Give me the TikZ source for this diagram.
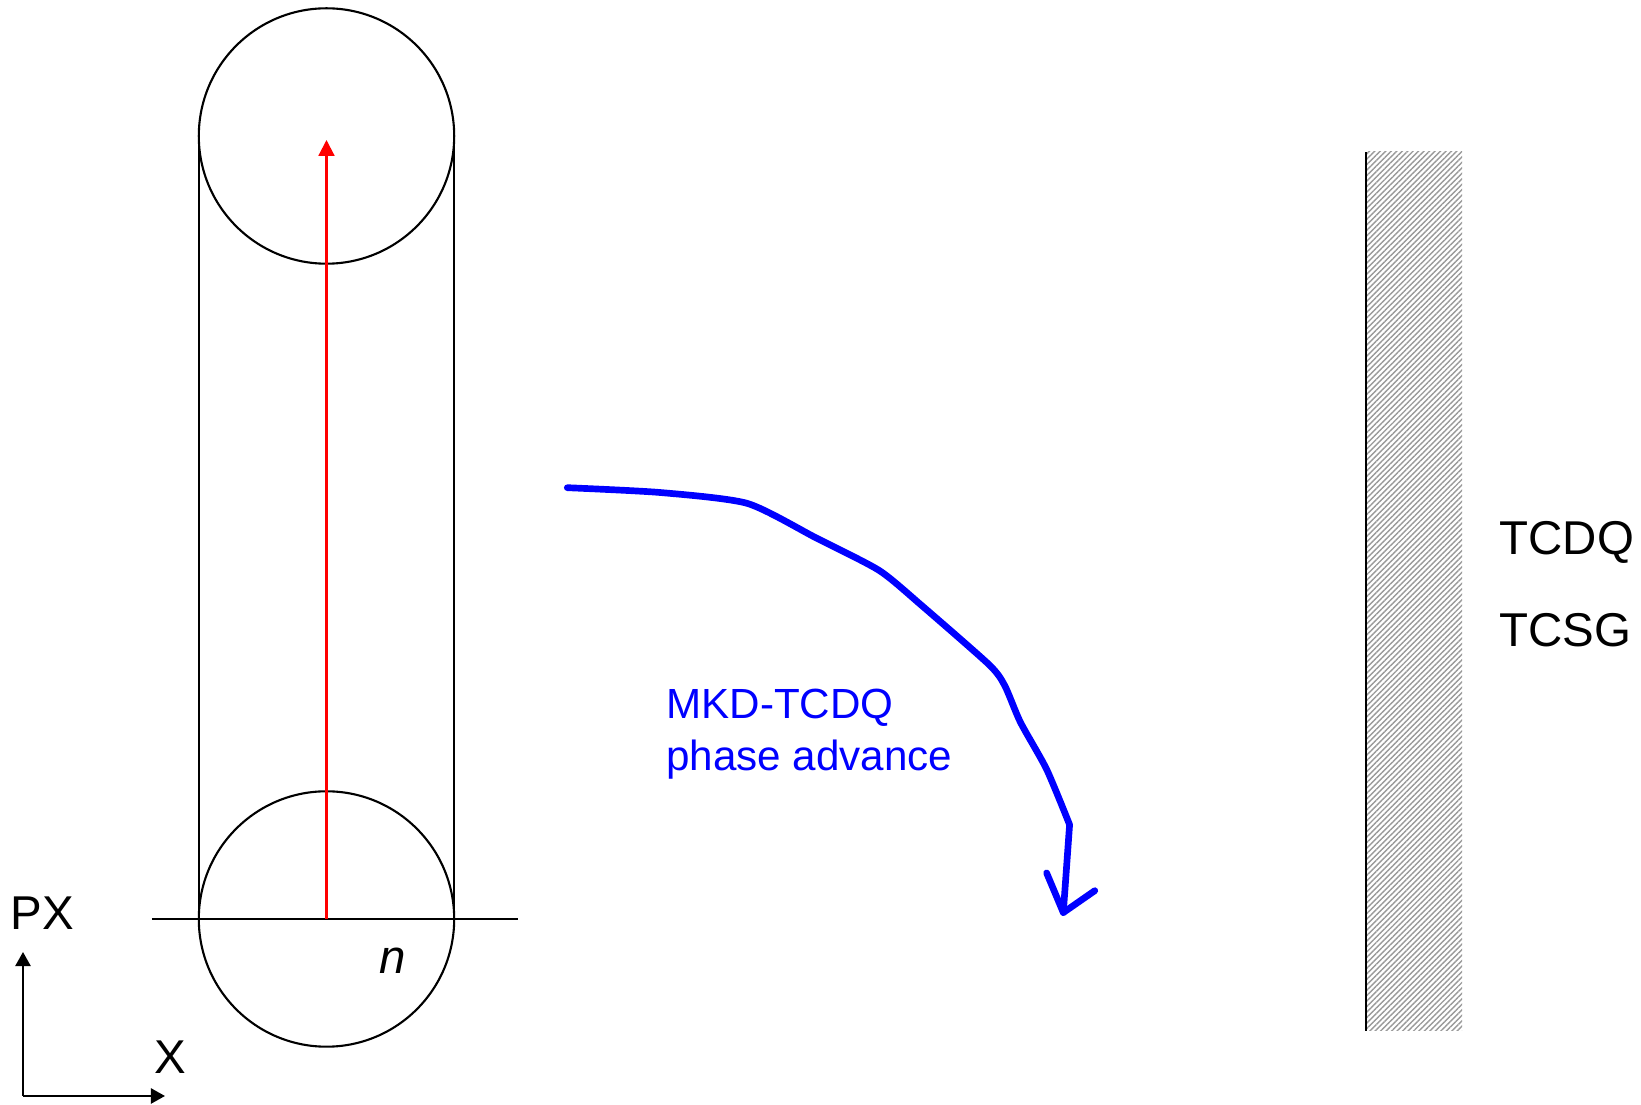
\documentclass[tikz,border=0pt]{standalone}
\usepackage{fontspec}
\setmainfont{Liberation Sans}
\usetikzlibrary{positioning,calc}
\usetikzlibrary{arrows.meta,patterns.meta}
\definecolor{PhaseBlue}{RGB}{0,0,255}
\definecolor{KickRed}{RGB}{255,0,0}
\tikzset{
  orbit/.style={draw=black,line width=0.6pt},
  kick/.style={draw=KickRed,line width=0.6pt,-{Triangle[length=4.5pt,width=4.5pt]}},
  phase/.style={draw=PhaseBlue,line width=1.9pt,line cap=round,line join=round},
  lab/.style={font=\fontsize{13.5}{16}\selectfont,inner sep=0pt},
}
\tikzset{axis/.style={draw=black,line width=0.6pt,-{Triangle[length=4pt,width=4.3pt]}}, bluelab/.style={font=\fontsize{12}{14.8}\selectfont,text=PhaseBlue,align=left,inner sep=0pt}, jaw/.style={pattern={Lines[angle=45,distance=1.1pt,line width=0.4pt]},pattern color=black!40}}

\begin{document}
\begin{tikzpicture}
\useasboundingbox (0,0) rectangle (16.41,11.05);
% phase space ellipses
\coordinate (ctop) at (3.265,9.69);
\coordinate (cbot) at (3.265,1.86);
\draw[orbit] (ctop) circle (1.277);
\draw[orbit] (cbot) circle (1.277);
\draw[orbit] (1.988,9.69) -- (1.988,1.86);
\draw[orbit] (4.542,9.69) -- (4.542,1.86);
\coordinate (hl) at (1.518,1.86);
\coordinate (hr) at (5.18,1.86);
\draw[orbit] (hl) -- (hr);
\draw[kick] (cbot) -- (3.265,9.65);
\node[lab,font=\fontsize{13.5}{16}\selectfont\itshape] (n) at (3.925,1.44) {n};
% axes
\coordinate (o) at (0.23,0.09);
\coordinate (py) at (0.23,1.53);
\coordinate (px) at (1.65,0.09);
\draw[axis] (o) -- (py);
\draw[axis] (o) -- (px);
\node[lab] (pxlab) at (0.42,1.92) {PX};
\node[lab] (xlab) at (1.70,0.48) {X};
% collimator jaw
\fill[jaw] (13.66,0.74) rectangle (14.62,9.53);
\draw[orbit] (13.66,0.74) -- (13.66,9.53);
\node[lab,anchor=west] (tcdq) at (14.99,5.63) {TCDQ};
\node[lab,anchor=west] (tcsg) at (14.99,4.75) {TCSG};
% phase advance arrow
\coordinate (p1) at (5.673,6.173);
\coordinate (p1b) at (6.60,6.125);
\coordinate (p2) at (7.473,6.016);
\coordinate (p3) at (8.163,5.670);
\coordinate (p4) at (8.791,5.346);
\coordinate (p5) at (9.210,5.001);
\coordinate (p6) at (9.890,4.404);
\coordinate (p7) at (10.047,4.195);
\coordinate (p8) at (10.204,3.828);
\coordinate (p9) at (10.466,3.357);
\coordinate (p10) at (10.696,2.803);
\coordinate (tip) at (10.633,1.924);
\coordinate (w1) at (10.466,2.321);
\coordinate (w2) at (10.948,2.143);
\draw[phase] plot[smooth,tension=0.4] coordinates {(p1) (p1b) (p2) (p3) (p4) (p5) (p6) (p7) (p8) (p9) (p10)} -- (tip);
\draw[phase] (w1) -- (tip) -- (w2);
\node[bluelab,anchor=north west] (mkd) at (6.656,4.17) {MKD-TCDQ\\phase advance};
\end{tikzpicture}
\end{document}
